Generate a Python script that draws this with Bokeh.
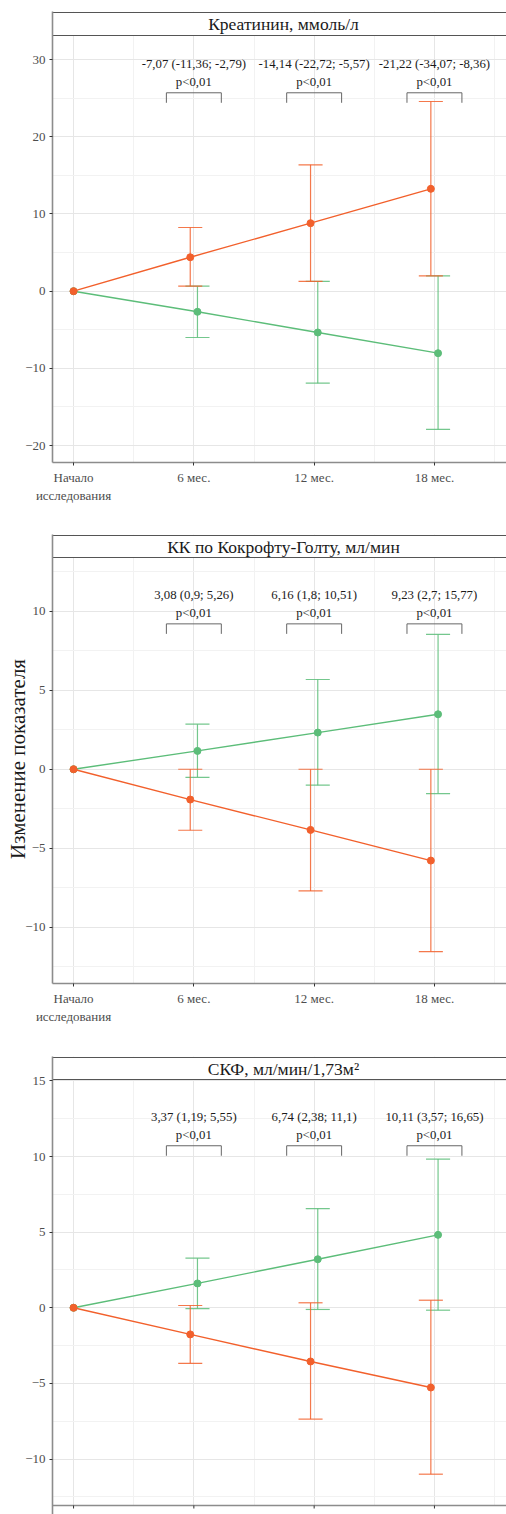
import numpy as np
from bokeh.plotting import figure
from bokeh.layouts import column
from bokeh.models import FixedTicker
from bokeh.core.properties import value
from bokeh.embed import file_html
from bokeh.resources import INLINE

# ---------------- data ----------------
months = [0, 6, 12, 18]
err_months = [6, 12, 18]
tick_labels = ["Начало\nисследования", "6 мес.", "12 мес.", "18 мес."]
p_label = "p<0,01"

# Panel 1: creatinine
cr_title = "Креатинин, ммоль/л"
cr_orange_mean = [0, 4.40, 8.81, 13.26]
cr_orange_lower = [0.65, 1.26, 1.99]
cr_orange_upper = [8.25, 16.37, 24.57]
cr_green_mean = [0, -2.67, -5.35, -8.03]
cr_green_lower = [-6.00, -11.92, -17.90]
cr_green_upper = [0.65, 1.26, 1.99]
cr_estimates = ["-7,07 (-11,36; -2,79)", "-14,14 (-22,72; -5,57)", "-21,22 (-34,07; -8,36)"]
cr_yticks = [-20, -10, 0, 10, 20, 30]
cr_yminor = [-15, -5, 5, 15, 25]

# Panel 2: Cockcroft-Gault
kk_title = "КК по Кокрофту-Голту, мл/мин"
kk_orange_mean = [0, -1.92, -3.84, -5.78]
kk_orange_lower = [-3.86, -7.70, -11.54]
kk_orange_upper = [0.0, 0.0, 0.0]
kk_green_mean = [0, 1.16, 2.32, 3.48]
kk_green_lower = [-0.51, -1.01, -1.54]
kk_green_upper = [2.85, 5.68, 8.53]
kk_estimates = ["3,08 (0,9; 5,26)", "6,16 (1,8; 10,51)", "9,23 (2,7; 15,77)"]
kk_yticks = [-10, -5, 0, 5, 10]
kk_yminor = [-12.5, -7.5, -2.5, 2.5, 7.5, 12.5]

# Panel 3: GFR
skf_title = "СКФ, мл/мин/1,73м²"
skf_orange_mean = [0, -1.76, -3.55, -5.27]
skf_orange_lower = [-3.67, -7.36, -11.00]
skf_orange_upper = [0.15, 0.33, 0.50]
skf_green_mean = [0, 1.61, 3.21, 4.82]
skf_green_lower = [-0.05, -0.11, -0.16]
skf_green_upper = [3.28, 6.56, 9.83]
skf_estimates = ["3,37 (1,19; 5,55)", "6,74 (2,38; 11,1)", "10,11 (3,57; 16,65)"]
skf_yticks = [-10, -5, 0, 5, 10, 15]
skf_yminor = [-12.5, -7.5, -2.5, 2.5, 7.5, 12.5]

y_title = "Изменение показателя"

# ---------------- style / layout ----------------
ORANGE = "#F2602C"
GREEN = "#5CBD79"
FONT = "'Liberation Serif', 'Times New Roman', 'DejaVu Serif', serif"
X0 = -1.05
PPX = 20.05          # px per month
LEFT = 52
W = 506
X1 = X0 + (W - LEFT) / PPX
TITLE_X = 10.47
DODGE = 0.18
CAP = 0.6
BR_HALF = 1.37
TOP_B = 11


def make_panel(title, o_mean, o_lo, o_hi, g_mean, g_lo, g_hi, estimates,
               ylim, yticks, yminor, bracket_top, strip_px, plot_px, height,
               fake_axis=False, ylabel=None):
    lo, hi = ylim
    ppu = plot_px / (hi - lo)
    y_end = hi + (strip_px + 1) / ppu
    rest = height - TOP_B - 1 - strip_px - plot_px
    if fake_axis:
        y_start = lo - rest / ppu
        mbb = 0
    else:
        y_start = lo
        mbb = rest

    p = figure(width=W, height=height, x_range=(X0, X1), y_range=(y_start, y_end),
               output_backend="svg", toolbar_location=None,
               min_border_left=LEFT, min_border_right=0, min_border_top=TOP_B,
               min_border_bottom=mbb, outline_line_color=None,
               x_axis_location=None if fake_axis else "below")
    p.background_fill_color = "white"
    p.border_fill_color = "white"

    xticker = FixedTicker(ticks=months, minor_ticks=[3, 9, 15, 21])
    yticker = FixedTicker(ticks=yticks, minor_ticks=yminor)
    p.xgrid.ticker = xticker
    p.ygrid.ticker = yticker
    p.yaxis.ticker = yticker
    for g in (p.xgrid, p.ygrid):
        g.grid_line_color = "#E6E6E6"
        g.grid_line_width = 1
        g.minor_grid_line_color = "#F2F2F2"
        g.minor_grid_line_width = 1

    axes = list(p.yaxis) + ([] if fake_axis else list(p.xaxis))
    for ax in axes:
        ax.axis_line_color = "#8C8C8C"
        ax.axis_line_width = 1.6
        ax.major_tick_line_color = "#333333"
        ax.major_tick_out = 3
        ax.major_tick_in = 0
        ax.minor_tick_line_color = None
        ax.major_label_text_font = FONT
        ax.major_label_text_font_size = "13px"
        ax.major_label_text_color = "#4D4D4D"
        ax.major_label_standoff = 3
    if not fake_axis:
        p.xaxis.ticker = xticker
        p.xaxis.major_label_overrides = {m: t for m, t in zip(months, tick_labels)}

    # series
    for mean, elo, ehi, col, sgn in ((g_mean, g_lo, g_hi, GREEN, 1),
                                     (o_mean, o_lo, o_hi, ORANGE, -1)):
        xs = [m + (sgn * DODGE if m else 0) for m in months]
        ex = [m + sgn * DODGE for m in err_months]
        p.segment(x0=ex, y0=elo, x1=ex, y1=ehi, line_color=col, line_width=1.2, line_alpha=0.85)
        p.segment(x0=[x - CAP for x in ex], y0=elo, x1=[x + CAP for x in ex], y1=elo,
                  line_color=col, line_width=1.2, line_alpha=0.85)
        p.segment(x0=[x - CAP for x in ex], y0=ehi, x1=[x + CAP for x in ex], y1=ehi,
                  line_color=col, line_width=1.2, line_alpha=0.85)
        p.line(xs, mean, line_color=col, line_width=1.4)
        p.scatter(xs, mean, size=7, fill_color=col, line_color=col)

    # brackets and annotations
    leg = 10 / ppu
    bx0 = [m - BR_HALF for m in err_months]
    bx1 = [m + BR_HALF for m in err_months]
    n = len(err_months)
    p.segment(x0=bx0, y0=[bracket_top] * n, x1=bx1, y1=[bracket_top] * n,
              line_color="#666666", line_width=1)
    p.segment(x0=bx0, y0=[bracket_top] * n, x1=bx0, y1=[bracket_top - leg] * n,
              line_color="#666666", line_width=1)
    p.segment(x0=bx1, y0=[bracket_top] * n, x1=bx1, y1=[bracket_top - leg] * n,
              line_color="#666666", line_width=1)
    p.text(x=err_months, y=[bracket_top + 10.5 / ppu] * n, text=[p_label] * n,
           text_align="center", text_baseline="middle", text_font=value(FONT),
           text_font_size="12.8px", text_color="#1A1A1A")
    p.text(x=err_months, y=[bracket_top + 28.5 / ppu] * n, text=estimates,
           text_align="center", text_baseline="middle", text_font=value(FONT),
           text_font_size="12.8px", text_color="#1A1A1A")

    # strip
    p.quad(left=[X0 - 1], right=[X1 + 1], bottom=[hi], top=[hi + strip_px / ppu],
           fill_color="white", line_color="#555555", line_width=1)
    p.text(x=[TITLE_X], y=[hi + strip_px / 2 / ppu], text=[title],
           text_align="center", text_baseline="middle", text_font=value(FONT),
           text_font_size="17.5px", text_color="#1A1A1A")

    if fake_axis:
        p.quad(left=[X0 - 1], right=[X1 + 1], bottom=[y_start - 1], top=[lo],
               fill_color="white", line_color=None)
        p.segment(x0=[X0 - 1], y0=[lo], x1=[X1 + 1], y1=[lo],
                  line_color="#8C8C8C", line_width=1.6)
        p.segment(x0=months, y0=[lo] * 4, x1=months, y1=[lo - 3 / ppu] * 4,
                  line_color="#333333", line_width=1)
        p.text(x=months, y=[lo - 6 / ppu] * 4, text=tick_labels,
               text_align="center", text_baseline="top", text_font=value(FONT),
               text_font_size="13px", text_color="#4D4D4D")

    if ylabel:
        ax = p.yaxis[0]
        ax.axis_label = ylabel
        ax.axis_label_text_font = FONT
        ax.axis_label_text_font_size = "21px"
        ax.axis_label_text_font_style = "normal"
        ax.axis_label_text_color = "#1A1A1A"
        ax.axis_label_standoff = -8
    return p


p1 = make_panel(cr_title, cr_orange_mean, cr_orange_lower, cr_orange_upper,
                cr_green_mean, cr_green_lower, cr_green_upper, cr_estimates,
                (-22.19, 33.12), cr_yticks, cr_yminor, 25.7, 23, 427, 523)
p2 = make_panel(kk_title, kk_orange_mean, kk_orange_lower, kk_orange_upper,
                kk_green_mean, kk_green_lower, kk_green_upper, kk_estimates,
                (-13.56, 13.40), kk_yticks, kk_yminor, 9.2, 22, 426, 522,
                ylabel=y_title)
p3 = make_panel(skf_title, skf_orange_mean, skf_orange_lower, skf_orange_upper,
                skf_green_mean, skf_green_lower, skf_green_upper, skf_estimates,
                (-13.07, 15.09), skf_yticks, skf_yminor, 10.71, 22, 426, 469,
                fake_axis=True)

layout = column(p1, p2, p3, spacing=0)
open("out.html", "w").write(file_html(layout, INLINE))
